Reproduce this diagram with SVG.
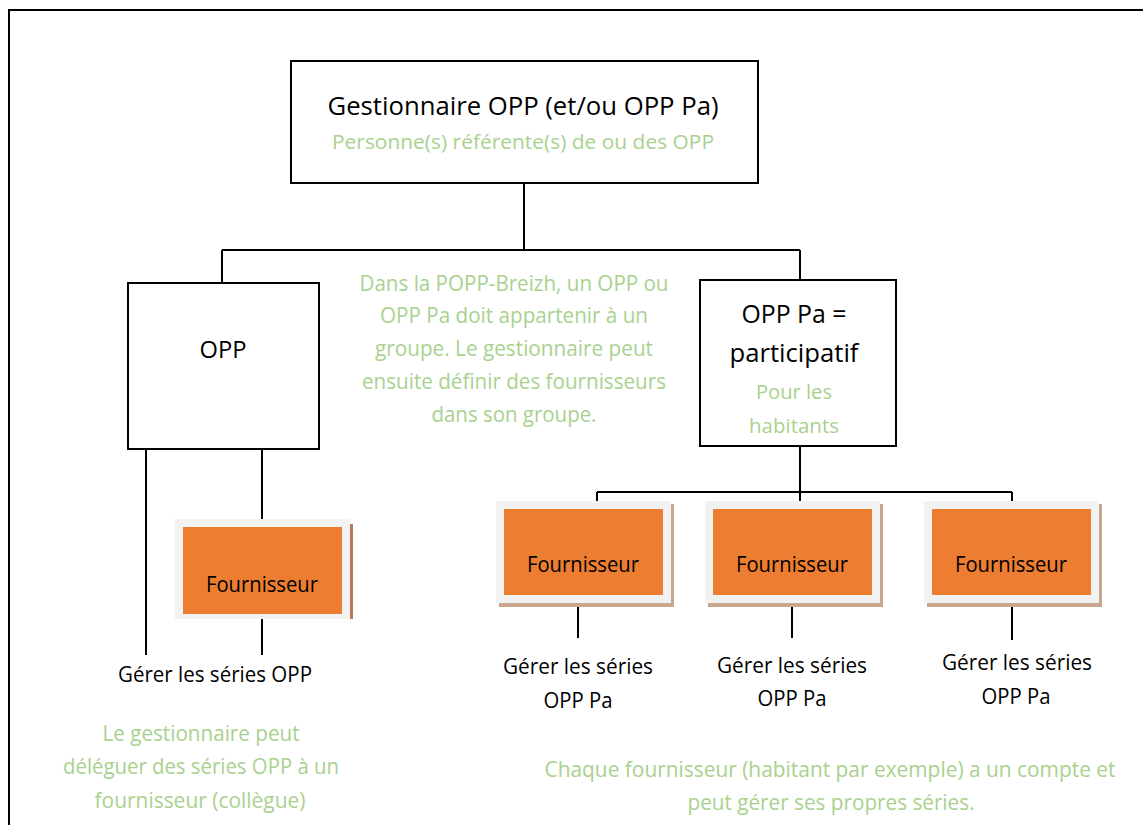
<svg xmlns="http://www.w3.org/2000/svg" width="1143" height="825" viewBox="0 0 1143 825">
<style>
text{font-family:"Open Sans","Noto Sans","Liberation Sans",sans-serif;text-anchor:middle}
.k{fill:#000}
.g{fill:#A9D18E}
.box{fill:#fff;stroke:#000;stroke-width:2}
.ln{stroke:#000;stroke-width:2;fill:none}
.frame{fill:#F2F2F2}
.org{fill:#ED7D31}
.shd{fill:#C9A68C}
</style>
<rect x="9" y="10" width="1200" height="900" fill="#fff" stroke="#000" stroke-width="2"/>
<g id="connectors">
<path class="ln" d="M524 183V250M222 250H800M222 250V283M800 250V280"/>
<path class="ln" d="M146 449V655M262 449V519M262 619V655"/>
<path class="ln" d="M800 446V492M597 492H1012M597 492V501M800 492V501M1012 492V501"/>
<path class="ln" d="M578 603V638M792 603V638M1012 603V640"/>
</g>
<g id="gestionnaire">
<rect class="box" x="291" y="61" width="467" height="122"/>
<text class="k" x="523" y="115" font-size="25" textLength="391" lengthAdjust="spacingAndGlyphs">Gestionnaire OPP (et/ou OPP Pa)</text>
<text class="g" x="523" y="149" font-size="20" textLength="382" lengthAdjust="spacingAndGlyphs">Personne(s) référente(s) de ou des OPP</text>
</g>
<g id="opp">
<rect class="box" x="128" y="283" width="191" height="166"/>
<text class="k" x="223" y="358" font-size="24" textLength="47" lengthAdjust="spacingAndGlyphs">OPP</text>
</g>
<g id="opp-pa">
<rect class="box" x="700" y="280" width="196" height="166"/>
<text class="k" x="794" y="323" font-size="25" textLength="105" lengthAdjust="spacingAndGlyphs">OPP Pa =</text>
<text class="k" x="794" y="362" font-size="25" textLength="129" lengthAdjust="spacingAndGlyphs">participatif</text>
<text class="g" x="794" y="399" font-size="20" textLength="76" lengthAdjust="spacingAndGlyphs">Pour les</text>
<text class="g" x="794" y="433" font-size="20" textLength="90" lengthAdjust="spacingAndGlyphs">habitants</text>
</g>
<g id="note-groupe">
<text class="g" x="514" y="291" font-size="21" textLength="309" lengthAdjust="spacingAndGlyphs">Dans la POPP-Breizh, un OPP ou</text>
<text class="g" x="514" y="323" font-size="21" textLength="268" lengthAdjust="spacingAndGlyphs">OPP Pa doit appartenir à un</text>
<text class="g" x="514" y="356" font-size="21" textLength="278" lengthAdjust="spacingAndGlyphs">groupe. Le gestionnaire peut</text>
<text class="g" x="514" y="389" font-size="21" textLength="304" lengthAdjust="spacingAndGlyphs">ensuite définir des fournisseurs</text>
<text class="g" x="514" y="422" font-size="21" textLength="165" lengthAdjust="spacingAndGlyphs">dans son groupe.</text>
</g>
<g id="fournisseur-opp">
<rect x="350" y="524" width="3" height="95" fill="#B9785A"/>
<rect class="frame" x="175" y="519" width="175" height="100"/>
<rect class="org" x="183" y="527" width="159" height="87"/>
<text class="k" x="262" y="592" font-size="21" textLength="112" lengthAdjust="spacingAndGlyphs">Fournisseur</text>
</g>
<g id="fournisseur-1">
<rect class="shd" x="499" y="504" width="175" height="103"/>
<rect class="frame" x="496" y="501" width="175" height="102"/>
<rect class="org" x="504" y="509" width="159" height="86"/>
<text class="k" x="583" y="572" font-size="21" textLength="112" lengthAdjust="spacingAndGlyphs">Fournisseur</text>
</g>
<g id="fournisseur-2">
<rect class="shd" x="708" y="504" width="175" height="103"/>
<rect class="frame" x="705" y="501" width="175" height="102"/>
<rect class="org" x="713" y="509" width="159" height="86"/>
<text class="k" x="792" y="572" font-size="21" textLength="112" lengthAdjust="spacingAndGlyphs">Fournisseur</text>
</g>
<g id="fournisseur-3">
<rect class="shd" x="927" y="504" width="175" height="103"/>
<rect class="frame" x="924" y="501" width="175" height="102"/>
<rect class="org" x="932" y="509" width="159" height="86"/>
<text class="k" x="1011" y="572" font-size="21" textLength="112" lengthAdjust="spacingAndGlyphs">Fournisseur</text>
</g>
<g id="gerer-opp">
<text class="k" x="215" y="682" font-size="21" textLength="194" lengthAdjust="spacingAndGlyphs">Gérer les séries OPP</text>
</g>
<g id="gerer-1">
<text class="k" x="578" y="674" font-size="21" textLength="150" lengthAdjust="spacingAndGlyphs">Gérer les séries</text>
<text class="k" x="578" y="708" font-size="21" textLength="69" lengthAdjust="spacingAndGlyphs">OPP Pa</text>
</g>
<g id="gerer-2">
<text class="k" x="792" y="673" font-size="21" textLength="150" lengthAdjust="spacingAndGlyphs">Gérer les séries</text>
<text class="k" x="792" y="706" font-size="21" textLength="69" lengthAdjust="spacingAndGlyphs">OPP Pa</text>
</g>
<g id="gerer-3">
<text class="k" x="1017" y="670" font-size="21" textLength="150" lengthAdjust="spacingAndGlyphs">Gérer les séries</text>
<text class="k" x="1016" y="704" font-size="21" textLength="69" lengthAdjust="spacingAndGlyphs">OPP Pa</text>
</g>
<g id="note-deleguer">
<text class="g" x="201" y="741" font-size="21" textLength="197" lengthAdjust="spacingAndGlyphs">Le gestionnaire peut</text>
<text class="g" x="201" y="774" font-size="21" textLength="276" lengthAdjust="spacingAndGlyphs">déléguer des séries OPP à un</text>
<text class="g" x="200" y="808" font-size="21" textLength="211" lengthAdjust="spacingAndGlyphs">fournisseur (collègue)</text>
</g>
<g id="note-compte">
<text class="g" x="830" y="777" font-size="21" textLength="571" lengthAdjust="spacingAndGlyphs">Chaque fournisseur (habitant par exemple) a un compte et</text>
<text class="g" x="831" y="810" font-size="21" textLength="287" lengthAdjust="spacingAndGlyphs">peut gérer ses propres séries.</text>
</g>
</svg>
